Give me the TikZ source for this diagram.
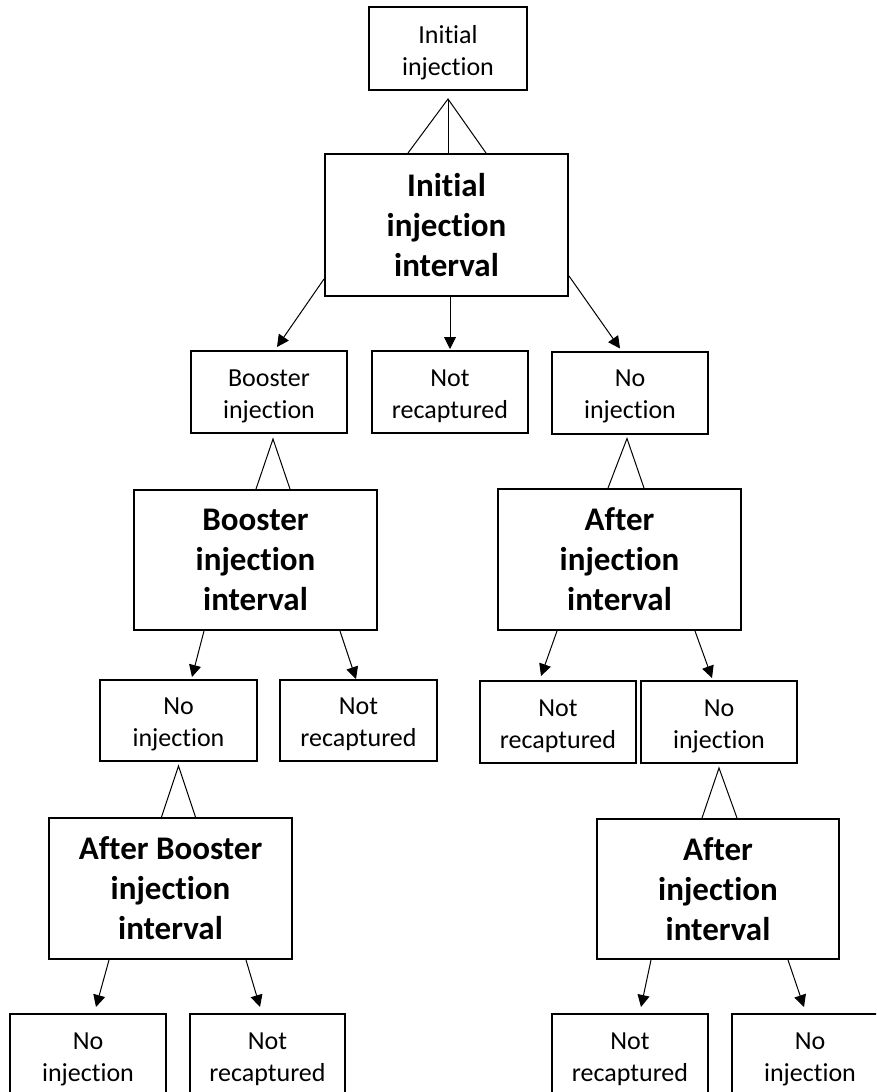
\documentclass[tikz,border=0pt]{standalone}
\usepackage{fontspec}
\setmainfont{Carlito}[Ligatures={NoCommon}]
\usetikzlibrary{arrows.meta,calc}

\tikzset{
  leaftext/.style={inner sep=0pt, align=center, yshift=-4pt,
    font=\fontsize{26}{32}\selectfont},
  leaf/.style={draw, line width=2pt, inner sep=0pt,
    minimum width=156pt, minimum height=82pt,
    label={[leaftext]center:#1}},
  interval/.style={draw, line width=2pt, inner sep=0pt, align=center,
    minimum width=243pt, minimum height=141pt,
    font=\fontsize{33}{40}\selectfont\bfseries},
  link/.style={line width=1pt},
  branch/.style={line width=1pt, -{Triangle[length=12pt,width=12pt]}}
}

\begin{document}
\begin{tikzpicture}[x=1pt,y=-1pt]
  \clip (0,0) rectangle (876,1092);
  \fill[white] (0,0) rectangle (876,1092);

  % first level
  \node[leaf={Initial\\injection}, minimum width=158pt, minimum height=83pt] (top) at (448,48.5) {};
  \node[interval, minimum height=142pt] (iii) at (446.5,225) {Initial\\injection\\interval};

  % second level
  \node[leaf={Booster\\injection}] (boost) at (269,392) {};
  \node[leaf={Not\\recaptured}] (nr1) at (450,392) {};
  \node[leaf={No\\injection}] (ni1) at (630,392.5) {};

  \node[interval, minimum height=140pt] (bii) at (255.5,560) {Booster\\injection\\interval};
  \node[interval] (aii) at (619.5,559.5) {After\\injection\\interval};

  % third level
  \node[leaf={No\\injection}, minimum width=157pt, minimum height=81pt] (ni2) at (178.5,720.5) {};
  \node[leaf={Not\\recaptured}, minimum width=157pt, minimum height=81pt] (nr2) at (358.5,720.5) {};
  \node[leaf={Not\\recaptured}] (nr3) at (558,722) {};
  \node[leaf={No\\injection}] (ni3) at (719,722) {};

  \node[interval] (abi) at (170.5,888.5) {After Booster\\injection\\interval};
  \node[interval, minimum width=242pt, minimum height=140pt] (aii2) at (718,889) {After\\injection\\interval};

  % fourth level
  \node[leaf={No\\injection}] (ni4) at (88,1055) {};
  \node[leaf={Not\\recaptured}, minimum width=155pt] (nr4) at (267.5,1055) {};
  \node[leaf={Not\\recaptured}] (nr5) at (630,1055) {};
  \node[leaf={No\\injection}] (ni5) at (810,1055) {};

  % triangle links from event to interval
  \coordinate (t1) at ($(top.south)+(0,8)$);
  \draw[link] ($(iii.north)+(-38.5,0)$) -- (t1) -- ($(iii.north)+(39.5,0)$);
  \draw[link] (t1) -- (t1 |- iii.north);

  \coordinate (t2) at ($(boost.south)+(4,5)$);
  \draw[link] ($(t2 |- bii.north)+(-17,0)$) -- (t2) -- ($(t2 |- bii.north)+(17,0)$);

  \coordinate (t3) at ($(ni1.south)+(-3,4)$);
  \draw[link] ($(t3 |- aii.north)+(-19,0)$) -- (t3) -- ($(t3 |- aii.north)+(17,0)$);

  \coordinate (t4) at ($(ni2.south)+(0,4)$);
  \draw[link] ($(t4 |- abi.north)+(-17,0)$) -- (t4) -- ($(t4 |- abi.north)+(17,0)$);

  \coordinate (t5) at ($(ni3.south)+(0,4)$);
  \draw[link] ($(t5 |- aii2.north)+(-17,0)$) -- (t5) -- ($(t5 |- aii2.north)+(18,0)$);

  % branches from intervals to outcomes
  \draw[branch] ($(iii.south west)+(0,-18)$) -- ($(boost.north)+(8,-3)$);
  \draw[branch] (iii.south -| nr1.north) -- ($(nr1.north)+(0,-1)$);
  \draw[branch] ($(iii.south east)+(0,-21)$) -- ($(ni1.north)+(-10,-2)$);

  \draw[branch] ($(bii.south)+(-51.5,0)$) -- ($(ni2.north)+(13.5,-2)$);
  \draw[branch] ($(bii.south)+(84.5,0)$) -- ($(nr2.north)+(-2.5,0)$);

  \draw[branch] ($(aii.south)+(-62.5,0)$) -- ($(nr3.north)+(-17,-4)$);
  \draw[branch] ($(aii.south)+(75.5,0)$) -- ($(ni3.north)+(-7,-2)$);

  \draw[branch] ($(abi.south)+(-61.5,0)$) -- ($(ni4.north)+(8,-6)$);
  \draw[branch] ($(abi.south)+(75.5,0)$) -- ($(nr4.north)+(-7.5,-6)$);

  \draw[branch] ($(aii2.south)+(-67,0)$) -- ($(nr5.north)+(11,-6)$);
  \draw[branch] ($(aii2.south)+(70,0)$) -- ($(ni5.north)+(-6,-6)$);
\end{tikzpicture}
\end{document}
